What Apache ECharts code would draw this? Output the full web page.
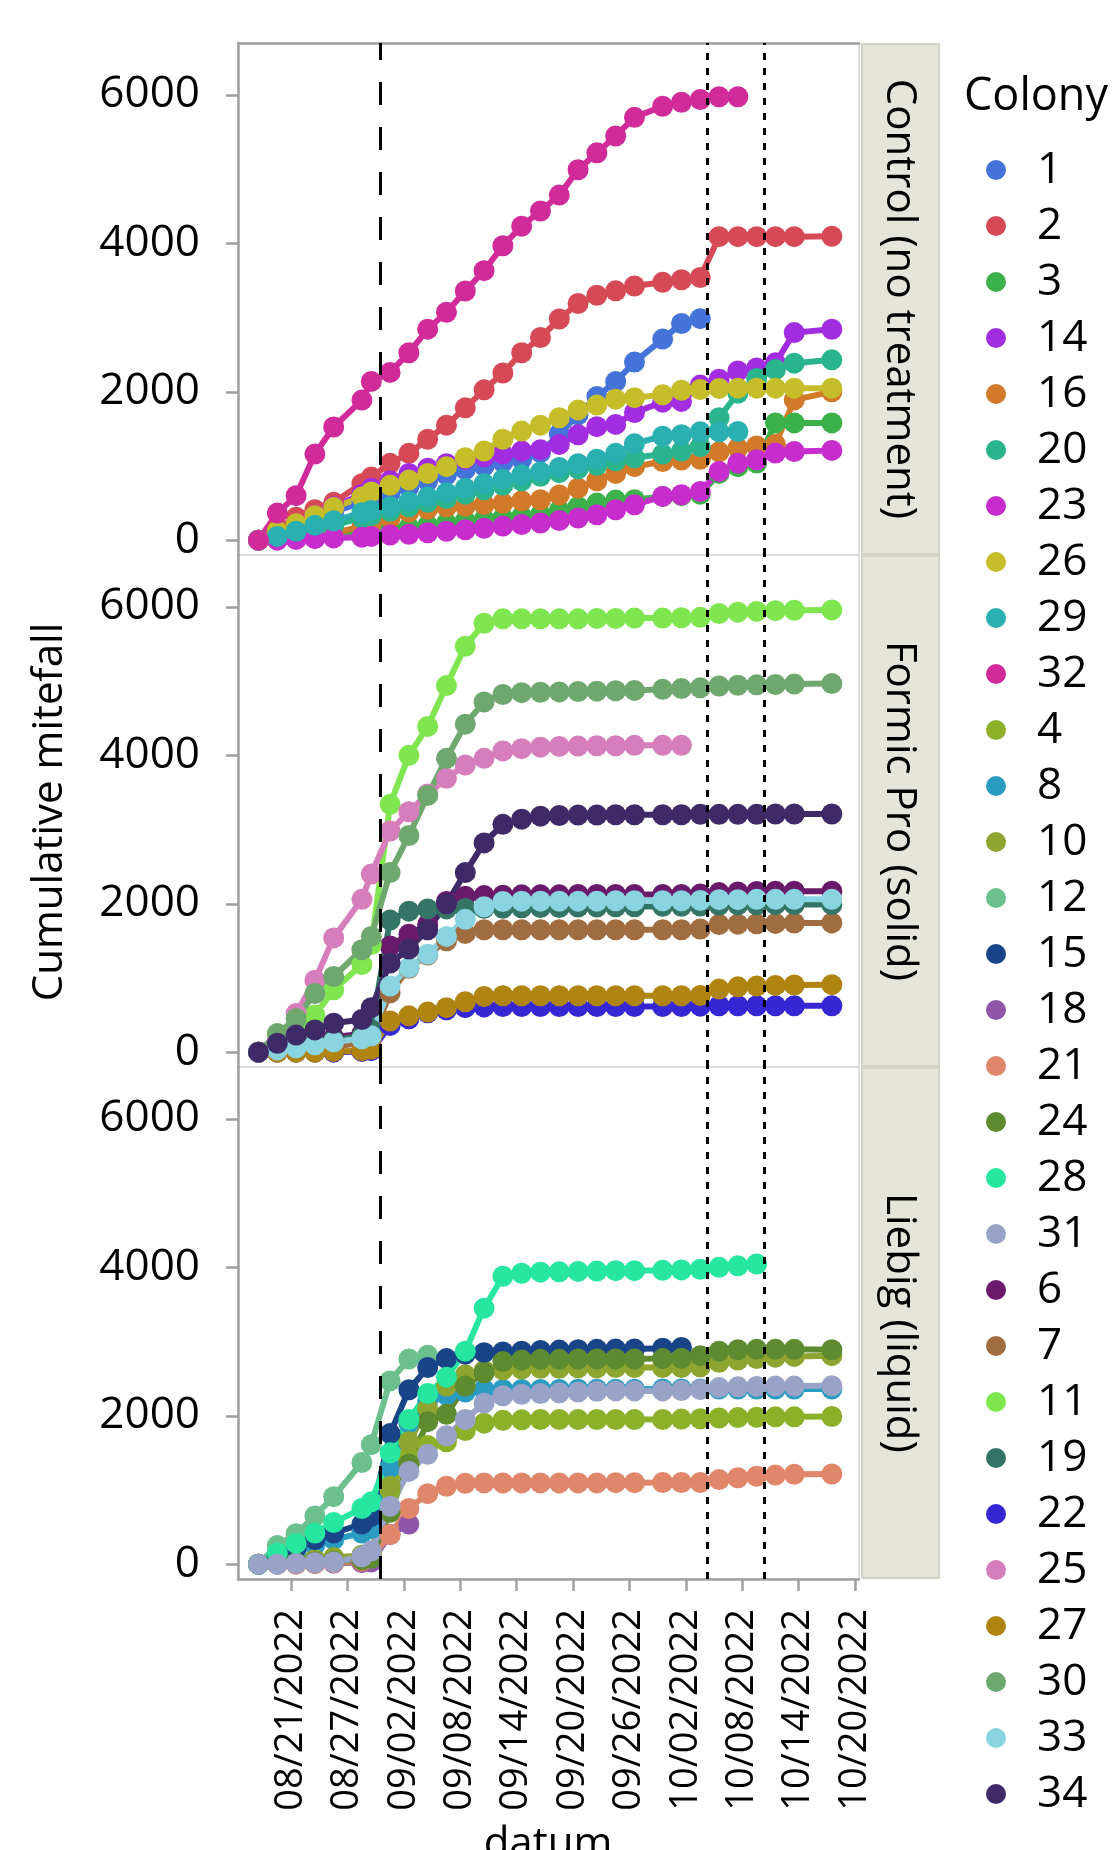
<!DOCTYPE html>
<html><head><meta charset="utf-8">
<script src="https://cdn.jsdelivr.net/npm/echarts@6/dist/echarts.min.js"></script>
<style>html,body{margin:0;padding:0;background:#fff}#chart{width:1117px;height:1850px}</style>
</head><body><div id="chart"></div>
<script>
// ---------------- data ----------------
const DATES = ['2022-08-17','2022-08-19','2022-08-21','2022-08-23','2022-08-25','2022-08-28','2022-08-29','2022-08-31',
  '2022-09-02','2022-09-04','2022-09-06','2022-09-08','2022-09-10','2022-09-12','2022-09-14','2022-09-16','2022-09-18',
  '2022-09-20','2022-09-22','2022-09-24','2022-09-26','2022-09-29','2022-10-01','2022-10-03','2022-10-05','2022-10-07',
  '2022-10-09','2022-10-11','2022-10-13','2022-10-17'];
const TICK_DATES = ['2022-08-21','2022-08-27','2022-09-02','2022-09-08','2022-09-14','2022-09-20','2022-09-26','2022-10-02','2022-10-08','2022-10-14','2022-10-20'];
const Y_TICKS = [0, 2000, 4000, 6000];
const DASHED_EVENTS = ['2022-08-30T12:15:00Z'];
const DOTTED_EVENTS = ['2022-10-04T08:00:00Z', '2022-10-10T09:10:00Z'];

const PANELS = ['Control (no treatment)', 'Formic Pro (solid)', 'Liebig (liquid)'];
const CONTROL = ['1','2','3','14','16','20','23','26','29','32'];
const LIEBIG = ['4','8','10','12','15','18','21','24','28','31'];
const FORMIC = ['6','7','11','19','22','25','27','30','33','34'];
const LEGEND_ORDER = ['1','2','3','14','16','20','23','26','29','32','4','8','10','12','15','18','21','24','28','31','6','7','11','19','22','25','27','30','33','34'];

// Control (no treatment)
const C1  = [0,80,170,270,380,510,560,640,720,800,880,950,1000,1050,1090,1180,1430,1690,1935,2137,2400,2710,2920,2985];
const C2  = [0,150,310,410,510,760,850,1035,1170,1360,1550,1783,2026,2253,2525,2731,2980,3190,3300,3360,3425,3475,3510,3540,4090,4090,4090,4090,4090,4095];
const C3  = [0,10,30,50,70,100,110,140,170,200,230,260,280,300,320,343,400,450,500,540,545,590,600,620,900,990,1040,1580,1580,1580];
const C14 = [0,80,200,330,450,620,700,800,900,970,1030,1090,1120,1160,1200,1220,1290,1420,1530,1560,1720,1860,1870,2090,2170,2280,2320,2390,2797,2843];
const C16 = [0,20,40,70,100,180,220,300,380,420,450,460,480,500,530,545,610,700,800,900,990,1060,1080,1090,1190,1240,1270,1290,1890,2000];
const C20 = [0,40,90,150,200,300,330,390,450,510,560,620,680,740,800,860,910,960,1010,1070,1110,1160,1200,1260,1650,1980,2180,2300,2385,2430];
const C23 = [0,0,10,20,30,40,50,70,80,100,120,140,160,190,210,231,265,298,343,410,477,590,612,657,926,1038,1083,1173,1195,1209];
const C26 = [0,120,220,330,440,580,650,740,810,900,990,1110,1200,1360,1470,1550,1650,1755,1820,1900,1920,1960,2020,2030,2045,2048,2048,2048,2048,2048];
const C29 = [0,50,120,200,260,370,400,450,520,580,640,700,760,820,880,920,980,1030,1090,1170,1300,1400,1420,1460,1460,1465];
const C32 = [0,365,600,1160,1525,1888,2139,2261,2525,2844,3071,3358,3632,3968,4232,4436,4650,4992,5220,5447,5698,5847,5902,5938,5975,5975];
// Liebig (liquid)
const C4  = [0,20,40,60,80,110,150,1000,1450,1600,1650,1800,1900,1940,1945,1950,1950,1950,1950,1950,1950,1950,1955,1960,1970,1975,1980,1985,1985,1990];
const C8  = [0,80,170,260,330,420,480,1300,1900,2200,2280,2320,2350,2355,2355,2355,2355,2358,2358,2358,2358,2360,2360,2360,2360,2360,2360,2360,2360,2360];
const C10 = [0,20,40,60,90,120,160,1050,1650,2100,2400,2550,2610,2620,2630,2640,2640,2645,2645,2650,2650,2650,2650,2660,2720,2750,2770,2790,2800,2810];
const C12 = [0,250,410,650,910,1370,1610,2470,2765,2815];
const C15 = [0,100,220,330,420,540,640,1760,2350,2650,2770,2830,2850,2860,2870,2880,2885,2890,2895,2898,2900,2910,2920];
const C18 = [0,0,5,10,15,20,30,400,540];
const C21 = [0,0,0,10,20,40,90,400,750,950,1050,1090,1095,1095,1095,1095,1095,1095,1095,1098,1098,1100,1100,1100,1140,1165,1185,1200,1210,1215];
const C24 = [0,10,20,30,40,60,80,700,1350,1920,2020,2400,2580,2730,2750,2760,2760,2765,2765,2765,2765,2770,2775,2810,2870,2890,2895,2895,2895,2890];
const C28 = [0,150,280,420,560,750,840,1500,1950,2300,2520,2870,3450,3880,3920,3935,3940,3945,3950,3955,3955,3960,3965,3975,4000,4020,4045];
const C31 = [0,0,10,20,30,100,180,780,1250,1480,1730,1950,2170,2270,2290,2300,2310,2320,2330,2335,2335,2335,2340,2355,2380,2390,2395,2400,2400,2403];
// Formic Pro (solid)
const C6  = [0,50,100,150,200,250,300,1430,1590,1720,2030,2100,2110,2115,2120,2120,2120,2125,2125,2125,2125,2125,2125,2130,2150,2160,2165,2170,2170,2170];
const C7  = [0,20,40,60,80,120,160,800,1130,1310,1500,1600,1650,1650,1650,1650,1650,1650,1650,1650,1650,1650,1650,1660,1720,1725,1730,1735,1740,1742];
const C11 = [0,60,200,500,840,1180,1450,3340,4000,4390,4940,5470,5780,5840,5840,5840,5840,5840,5845,5845,5850,5850,5855,5860,5910,5930,5940,5950,5955,5960];
const C19 = [0,40,80,120,160,220,300,1780,1900,1930,1930,1935,1940,1940,1945,1950,1950,1955,1955,1960,1960,1965,1965,1970,1980,1985,1985,1990,1990,1990];
const C22 = [0,0,0,0,0,10,20,360,450,530,570,600,610,615,615,615,615,615,615,615,615,615,615,620,625,625,625,625,625,625];
const C25 = [0,150,520,970,1540,2060,2400,2980,3240,3480,3690,3870,3960,4060,4090,4110,4120,4125,4130,4130,4135,4135,4135];
const C27 = [0,0,0,0,10,20,40,420,490,540,600,680,750,760,760,760,760,760,760,760,760,760,760,765,850,880,890,900,905,910];
const C30 = [0,250,450,790,1020,1380,1560,2420,2920,3460,3960,4420,4720,4820,4845,4850,4855,4860,4865,4870,4875,4890,4900,4910,4935,4945,4950,4955,4960,4967];
const C33 = [0,30,60,100,140,180,220,890,1140,1320,1560,1790,1960,2030,2035,2035,2035,2035,2035,2040,2040,2040,2040,2045,2055,2055,2060,2060,2060,2060];
const C34 = [0,120,230,300,390,440,600,1200,1390,1650,2000,2420,2820,3070,3140,3180,3190,3195,3195,3200,3200,3200,3200,3205,3205,3205,3205,3210,3210,3210];

const VALUES = {'1':C1,'2':C2,'3':C3,'14':C14,'16':C16,'20':C20,'23':C23,'26':C26,'29':C29,'32':C32,
  '4':C4,'8':C8,'10':C10,'12':C12,'15':C15,'18':C18,'21':C21,'24':C24,'28':C28,'31':C31,
  '6':C6,'7':C7,'11':C11,'19':C19,'22':C22,'25':C25,'27':C27,'30':C30,'33':C33,'34':C34};
const COLORS = {'1':'#4473d9','2':'#d64a58','3':'#3cb14a','14':'#a22de0','16':'#d07a2a','20':'#2bb58e','23':'#c72ccc','26':'#c6bd2a','29':'#2ab0b0','32':'#d12b9a',
  '4':'#8db02a','8':'#2a9cc2','10':'#8ea530','12':'#6cc08e','15':'#1a4488','18':'#8f55a8','21':'#e0866a','24':'#5e8a30','28':'#26e6a0','31':'#99a3c8',
  '6':'#6a1a6a','7':'#a06d40','11':'#80e650','19':'#347565','22':'#3528d4','25':'#d67ebb','27':'#b08410','30':'#6fa86e','33':'#8ad3e0','34':'#3f2a68'};

// ---------------- layout ----------------
const FONT = 'Open Sans';
const FS_X = 38, FS_Y = 44, FS_LEG = 44, FS_TITLE = 42;
const TIME_SHIFT = 13 * 3600e3;
const DAY = 864e5;
const BASE = Date.UTC(2022, 7, 21);
const X_MIN = BASE - 5.64 * DAY, X_MAX = BASE + 60.43 * DAY;
const Y_MIN = -200, Y_MAX = 6700;
const G_LEFT = 238, G_W = 621, G_TOP = 43, G_H = 512;
const PANEL_COLS = [CONTROL, FORMIC, LIEBIG];
const AXIS_GRAY = '#a0a0a0';

function pad(n){return (n<10?'0':'')+n;}
function fmtDate(v){const d=new Date(v);return pad(d.getUTCMonth()+1)+'/'+pad(d.getUTCDate())+'/'+d.getUTCFullYear();}

const grids=[], xAxes=[], yAxes=[], series=[], graphics=[];
const tickTimes = TICK_DATES.map(d => Date.parse(d));
for (let i=0;i<3;i++){
  const top = G_TOP + G_H*i;
  grids.push({left:G_LEFT, top:top, width:G_W, height:G_H, show:true, borderColor:'#dddddd', borderWidth:2, backgroundColor:'#fff'});
  const bottom = i===2;
  xAxes.push({type:'value', gridIndex:i, min:X_MIN, max:X_MAX, position: i===0 ? 'top' : 'bottom',
    axisLine:{show: bottom || i===0, onZero:false, lineStyle:{color:AXIS_GRAY, width:2.5}},
    axisTick:{show:bottom, customValues: tickTimes, length:12, lineStyle:{color:AXIS_GRAY, width:2.5}},
    axisLabel:{show:bottom, customValues: tickTimes, rotate:90, margin:30, fontSize:FS_X, fontFamily:FONT, color:'#000', formatter:(v)=>fmtDate(v)},
    splitLine:{show:false}, minorTick:{show:false}});
  yAxes.push({type:'value', gridIndex:i, min:Y_MIN, max:Y_MAX,
    axisLine:{show:true, onZero:false, lineStyle:{color:AXIS_GRAY, width:2.5}},
    axisTick:{show:true, customValues:Y_TICKS, length:12, lineStyle:{color:AXIS_GRAY, width:2.5}},
    axisLabel:{show:true, customValues:Y_TICKS, margin:38, fontSize:FS_Y, fontFamily:FONT, color:'#000', formatter:(v)=>String(v)},
    splitLine:{show:false}});
  graphics.push({type:'rect', left:861, top:top, shape:{width:77, height:G_H-2}, style:{fill:'#e6e5dc', stroke:'#d4d3c8', lineWidth:2}, z:1});
  graphics.push({type:'text', x:899, y:top+G_H/2, rotation:-Math.PI/2, style:{text:PANELS[i], fontSize:FS_TITLE, fontFamily:FONT, fill:'#000', align:'center', verticalAlign:'middle'}, z:2});
}

LEGEND_ORDER.forEach(name=>{
  const panel = PANEL_COLS.findIndex(a=>a.includes(name));
  const vals = VALUES[name];
  series.push({name:name, type:'line', xAxisIndex:panel, yAxisIndex:panel,
    data: vals.map((v,k)=>[Date.parse(DATES[k]) + TIME_SHIFT, v]),
    color: COLORS[name], lineStyle:{width:6}, symbol:'circle', symbolSize:21, showSymbol:true,
    itemStyle:{borderWidth:0}, emphasis:{disabled:true}, animation:false});
});

for (let i=0;i<3;i++){
  const ml = [];
  DASHED_EVENTS.forEach(t=>ml.push({xAxis:Date.parse(t), lineStyle:{type:[23,22], width:3, color:'#000'}}));
  DOTTED_EVENTS.forEach(t=>ml.push({xAxis:Date.parse(t), lineStyle:{type:[7,8], width:3, color:'#000'}}));
  series.push({type:'line', name:'_events'+i, xAxisIndex:i, yAxisIndex:i, data:[[Date.parse(DATES[0]), 0]], symbol:'none',
    lineStyle:{opacity:0}, silent:true, z:10, animation:false,
    markLine:{symbol:['none','none'], silent:true, label:{show:false}, animation:false, data:ml}});
}

graphics.push({type:'text', x:50, y:812, rotation:Math.PI/2, style:{text:'Cumulative mitefall', fontSize:FS_TITLE, fontFamily:FONT, fill:'#000', align:'center', verticalAlign:'middle'}});
graphics.push({type:'text', x:548, y:1824, style:{text:'datum', fontSize:FS_TITLE, fontFamily:FONT, fill:'#000', align:'center', verticalAlign:'top'}});

const chart = echarts.init(document.getElementById('chart'), null, {renderer:'canvas'});
chart.setOption({
  animation:false, backgroundColor:'#fff',
  title:{text:'Colony', left:959, top:70, textStyle:{fontSize:FS_LEG+1, fontFamily:FONT, fontWeight:'normal', color:'#000'}},
  legend:{data:LEGEND_ORDER, orient:'vertical', left:981, top:143, icon:'circle', itemWidth:72, itemHeight:20, itemGap:12,
    textStyle:{fontSize:FS_LEG, fontFamily:FONT, color:'#000'}, selectedMode:false},
  grid:grids, xAxis:xAxes, yAxis:yAxes, series:series, graphic:graphics
});
</script></body></html>
